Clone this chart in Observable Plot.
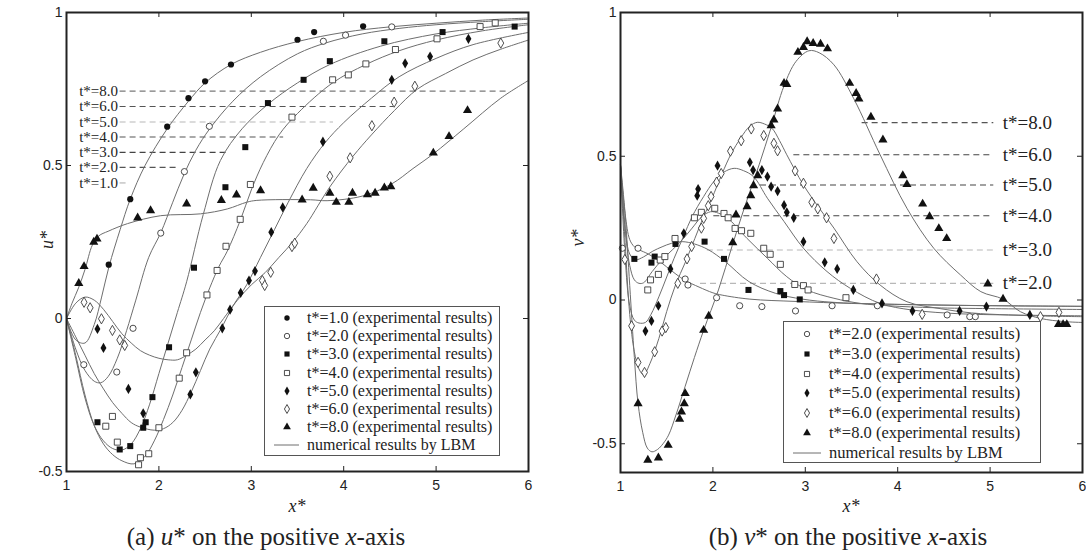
<!DOCTYPE html>
<html><head><meta charset="utf-8">
<script src="https://cdn.jsdelivr.net/npm/d3@7"></script>
<script src="https://cdn.jsdelivr.net/npm/@observablehq/plot@0.6"></script>
<style>
html,body{margin:0;padding:0;background:#fff;}
#wrap{position:relative;width:1086px;height:557px;overflow:hidden;font-family:"Liberation Serif","Times New Roman",serif;color:#222;}
.panel{position:absolute;top:0;}
.lab{position:absolute;font-style:italic;font-size:18px;line-height:18px;white-space:nowrap;}
.cap{position:absolute;font-size:25px;line-height:25px;white-space:nowrap;transform:translateX(-50%);}
.legend{position:absolute;border:1px solid #555;background:#fff;box-sizing:border-box;}
.legend .row{position:absolute;white-space:nowrap;line-height:1;transform:translateY(-50%);}
.legend svg{position:absolute;overflow:visible;}
</style></head><body><div id="wrap"></div>
<script>
// ---------- shared ticks ----------
const xTicks = [1, 2, 3, 4, 5, 6];
const uTicks = [-0.5, 0, 0.5, 1];
const vTicks = [-0.5, 0, 0.5, 1];

// ---------- (a) u* : experimental points ----------
const uExp1 = [[1.457,0.176],[1.69,0.39],[2.09,0.627],[2.32,0.72],[2.50,0.775],[2.78,0.83],[3.50,0.911],[3.68,0.936],[4.21,0.955]];
const uExp2 = [[1.187,-0.151],[1.544,-0.175],[1.72,-0.032],[2.02,0.279],[2.276,0.48],[2.546,0.628],[3.78,0.906],[4.02,0.926],[4.52,0.953]];
const uExp3 = [[1.335,-0.339],[1.576,-0.428],[1.69,-0.417],[1.83,-0.357],[1.857,-0.339],[1.93,-0.257],[2.11,-0.094],[2.38,0.166],[2.72,0.429],[2.935,0.56],[3.18,0.704],[3.566,0.78],[3.85,0.841],[4.44,0.906],[5.07,0.936],[5.85,0.954]];
const uExp4 = [[1.425,-0.352],[1.497,-0.32],[1.55,-0.404],[1.78,-0.478],[1.80,-0.455],[1.89,-0.442],[2.0,-0.357],[2.22,-0.195],[2.30,-0.112],[2.52,0.077],[2.63,0.157],[2.726,0.236],[2.88,0.324],[2.99,0.438],[3.44,0.658],[3.88,0.78],[4.05,0.796],[4.24,0.832],[4.56,0.879],[5.01,0.914],[5.476,0.954],[5.64,0.966]];
const uExp5 = [[1.335,-0.034],[1.40,-0.096],[1.67,-0.23],[1.83,-0.31],[2.34,-0.248],[2.40,-0.176],[2.686,-0.032],[2.77,0.029],[2.885,0.084],[2.975,0.124],[3.04,0.155],[3.216,0.282],[3.34,0.363],[3.775,0.578],[4.52,0.78],[4.665,0.834],[4.935,0.856],[5.35,0.914]];
const uExp6 = [[1.19,0.053],[1.256,0.035],[1.378,-0.001],[1.497,-0.039],[1.576,-0.07],[1.63,-0.088],[3.12,0.124],[3.145,0.108],[3.21,0.151],[3.44,0.235],[3.47,0.246],[3.85,0.465],[4.07,0.525],[4.305,0.63],[4.546,0.707],[4.77,0.759],[5.70,0.90]];
const uExp8 = [[1.133,0.115],[1.19,0.17],[1.295,0.25],[1.33,0.26],[1.77,0.329],[1.91,0.353],[2.30,0.375],[2.676,0.386],[2.84,0.404],[3.10,0.418],[3.55,0.388],[3.67,0.426],[3.85,0.41],[3.92,0.38],[4.056,0.38],[4.095,0.41],[4.257,0.405],[4.34,0.41],[4.44,0.427],[4.51,0.431],[4.97,0.541],[5.14,0.595],[5.34,0.68]];

// ---------- (a) u* : LBM curves ----------
const uLbm1 = [[1,0],[1.1,-0.07],[1.2,-0.08],[1.3,-0.02],[1.38,0.07],[1.46,0.17],[1.58,0.29],[1.69,0.39],[1.85,0.5],[2.09,0.62],[2.32,0.71],[2.5,0.77],[2.78,0.83],[3.1,0.87],[3.5,0.905],[4,0.935],[4.5,0.953],[5,0.965],[5.5,0.975],[6,0.982]];
const uLbm2 = [[1,0],[1.1,-0.1],[1.2,-0.17],[1.3,-0.205],[1.37,-0.21],[1.45,-0.19],[1.55,-0.13],[1.65,-0.04],[1.75,0.06],[1.89,0.2],[2.02,0.28],[2.15,0.38],[2.27,0.47],[2.4,0.55],[2.55,0.62],[2.8,0.71],[3.1,0.79],[3.5,0.865],[3.8,0.9],[4.2,0.93],[4.6,0.948],[5,0.96],[5.5,0.97],[6,0.978]];
const uLbm3 = [[1,0],[1.1,-0.13],[1.2,-0.26],[1.3,-0.35],[1.4,-0.4],[1.5,-0.425],[1.6,-0.43],[1.7,-0.41],[1.8,-0.36],[1.9,-0.28],[2.0,-0.18],[2.1,-0.08],[2.2,0.02],[2.3,0.12],[2.48,0.34],[2.665,0.516],[2.9,0.62],[3.18,0.70],[3.5,0.77],[3.85,0.83],[4.4,0.89],[5,0.93],[5.5,0.95],[6,0.965]];
const uLbm4 = [[1,0],[1.1,-0.12],[1.2,-0.25],[1.3,-0.35],[1.4,-0.41],[1.5,-0.445],[1.6,-0.465],[1.73,-0.475],[1.85,-0.45],[1.95,-0.40],[2.05,-0.33],[2.15,-0.25],[2.25,-0.16],[2.35,-0.07],[2.45,0.02],[2.55,0.1],[2.65,0.17],[2.74,0.22],[2.88,0.32],[3.0,0.42],[3.13,0.51],[3.3,0.6],[3.5,0.67],[3.88,0.77],[4.24,0.83],[4.6,0.875],[5,0.91],[5.5,0.94],[6,0.96]];
const uLbm5 = [[1,0],[1.1,-0.06],[1.2,-0.12],[1.3,-0.18],[1.4,-0.23],[1.5,-0.275],[1.6,-0.31],[1.7,-0.34],[1.8,-0.355],[1.95,-0.365],[2.05,-0.36],[2.15,-0.34],[2.25,-0.3],[2.35,-0.24],[2.45,-0.17],[2.55,-0.1],[2.68,-0.03],[2.8,0.04],[2.95,0.11],[3.1,0.2],[3.25,0.29],[3.4,0.38],[3.6,0.49],[3.8,0.575],[4.0,0.64],[4.3,0.72],[4.6,0.79],[5.0,0.85],[5.4,0.895],[6,0.935]];
const uLbm6 = [[1,0],[1.1,0.05],[1.2,0.07],[1.3,0.06],[1.4,0.03],[1.5,-0.01],[1.6,-0.05],[1.7,-0.08],[1.8,-0.105],[1.9,-0.12],[2.0,-0.13],[2.1,-0.135],[2.2,-0.135],[2.3,-0.12],[2.4,-0.1],[2.5,-0.07],[2.6,-0.04],[2.7,0.0],[2.85,0.06],[3.0,0.11],[3.15,0.15],[3.3,0.2],[3.45,0.25],[3.6,0.31],[3.85,0.43],[4.1,0.53],[4.3,0.6],[4.55,0.68],[4.8,0.75],[5.1,0.8],[5.4,0.845],[5.7,0.88],[6,0.91]];
const uLbm8 = [[1,0],[1.06,0.05],[1.13,0.1],[1.2,0.16],[1.28,0.24],[1.35,0.27],[1.45,0.285],[1.66,0.31],[2.02,0.336],[2.45,0.342],[2.74,0.358],[2.95,0.38],[3.06,0.386],[3.64,0.388],[3.82,0.385],[4.2,0.4],[4.52,0.44],[4.75,0.49],[4.97,0.538],[5.3,0.62],[5.7,0.72],[6,0.778]];

// ---------- (a) u* : t* labels with dashed leaders ----------
const uLabels = ["t*=8.0","t*=6.0","t*=5.0","t*=4.0","t*=3.0","t*=2.0","t*=1.0"];
const uLabelY = [0.743,0.693,0.642,0.593,0.543,0.494,0.443];
const uLeaderEnd = [5.80,4.54,3.89,3.35,2.75,2.21,1.67];
const uLeaderStart = 1.58;

// ---------- (b) v* : experimental points ----------
const vExp2 = [[1.02,0.18],[1.19,0.18],[1.70,0.073],[1.73,0.052],[2.04,0.008],[2.29,-0.02],[2.53,-0.023],[2.894,-0.038],[3.29,-0.02],[3.78,-0.02],[4.535,-0.052],[4.78,-0.058],[4.84,-0.058]];
const vExp3 = [[1.15,0.143],[1.335,0.13],[1.37,0.151],[1.595,0.195],[1.91,0.203],[2.12,0.143],[2.385,0.035],[2.73,0.031],[2.77,0.017],[2.94,0.002]];
const vExp4 = [[1.295,0.035],[1.325,0.07],[1.41,0.089],[1.43,0.139],[1.48,0.151],[1.59,0.214],[1.80,0.286],[1.875,0.305],[2.02,0.319],[2.12,0.301],[2.165,0.286],[2.24,0.249],[2.31,0.241],[2.41,0.232],[2.55,0.18],[2.62,0.159],[2.73,0.124],[2.886,0.054],[2.98,0.05],[3.03,0.035],[3.44,0.008]];
const vExp5 = [[1.27,-0.108],[1.335,-0.073],[1.41,-0.02],[1.54,0.108],[1.685,0.232],[1.83,0.363],[1.84,0.386],[2.05,0.467],[2.40,0.479],[2.435,0.452],[2.53,0.452],[2.59,0.429],[2.63,0.394],[2.70,0.379],[2.77,0.33],[2.80,0.305],[2.875,0.286],[2.98,0.203],[3.21,0.131],[3.345,0.108],[3.52,0.035],[3.83,-0.012],[4.16,-0.038],[4.67,-0.038],[4.96,-0.023],[5.43,-0.052]];
const vExp6 = [[1.047,0.141],[1.12,-0.09],[1.19,-0.217],[1.26,-0.252],[1.37,-0.18],[1.45,-0.108],[1.49,-0.096],[1.62,0.058],[1.72,0.143],[1.77,0.186],[1.875,0.25],[1.90,0.284],[1.95,0.328],[1.98,0.36],[2.04,0.41],[2.09,0.44],[2.19,0.518],[2.306,0.554],[2.415,0.595],[2.55,0.572],[2.66,0.545],[2.70,0.519],[2.89,0.449],[2.98,0.406],[3.07,0.34],[3.135,0.317],[3.23,0.286],[3.31,0.214],[3.77,0.073],[4.265,-0.05],[5.545,-0.058],[5.745,-0.043]];
const vExp8 = [[1.19,-0.36],[1.296,-0.557],[1.41,-0.549],[1.516,-0.505],[1.64,-0.414],[1.66,-0.389],[1.69,-0.36],[1.70,-0.325],[1.90,-0.105],[1.955,-0.056],[2.215,0.2],[2.25,0.296],[2.37,0.325],[2.41,0.363],[2.44,0.398],[2.485,0.433],[2.63,0.607],[2.66,0.627],[2.70,0.665],[2.77,0.754],[2.80,0.75],[2.92,0.862],[2.98,0.879],[3.02,0.899],[3.085,0.893],[3.165,0.89],[3.24,0.874],[3.48,0.754],[3.55,0.719],[3.58,0.70],[3.71,0.636],[3.84,0.557],[4.055,0.433],[4.10,0.402],[4.27,0.334],[4.345,0.29],[4.445,0.249],[4.53,0.214],[4.975,0.056],[5.14,0.003],[5.74,-0.085],[5.79,-0.085],[5.83,-0.085]];

// ---------- (b) v* : LBM curves ----------
const vLbm2 = [[1,0.47],[1.05,0.3],[1.1,0.21],[1.15,0.185],[1.2,0.175],[1.3,0.16],[1.4,0.14],[1.5,0.115],[1.6,0.09],[1.7,0.068],[1.85,0.045],[2.0,0.025],[2.1,0.017],[2.4,0.003],[2.9,-0.005],[3.5,-0.012],[4,-0.015],[5,-0.02],[6,-0.022]];
const vLbm3 = [[1,0.47],[1.05,0.25],[1.1,0.16],[1.16,0.14],[1.25,0.15],[1.35,0.17],[1.45,0.185],[1.55,0.197],[1.667,0.203],[1.8,0.195],[1.95,0.175],[2.136,0.133],[2.39,0.064],[2.68,0.023],[2.97,0.003],[3.3,-0.008],[3.8,-0.014],[4.5,-0.018],[5.2,-0.02],[6,-0.022]];
const vLbm4 = [[1,0.47],[1.05,0.25],[1.1,0.12],[1.15,0.07],[1.2,0.058],[1.25,0.06],[1.343,0.099],[1.45,0.14],[1.56,0.174],[1.67,0.21],[1.775,0.25],[1.88,0.29],[1.975,0.307],[2.06,0.302],[2.155,0.286],[2.37,0.214],[2.59,0.145],[2.80,0.081],[3.02,0.035],[3.31,0.006],[3.6,-0.012],[3.9,-0.02],[4.4,-0.027],[5,-0.03],[6,-0.033]];
const vLbm5 = [[1,0.47],[1.05,0.15],[1.1,-0.02],[1.15,-0.07],[1.2,-0.08],[1.27,-0.078],[1.33,-0.05],[1.415,0.011],[1.5,0.08],[1.58,0.145],[1.68,0.22],[1.775,0.29],[1.9,0.36],[2.01,0.412],[2.12,0.445],[2.23,0.458],[2.33,0.45],[2.44,0.429],[2.59,0.354],[2.77,0.273],[2.98,0.18],[3.235,0.099],[3.49,0.04],[3.81,-0.012],[4.16,-0.035],[4.68,-0.048],[5.2,-0.052],[6,-0.055]];
const vLbm6 = [[1,0.47],[1.05,0.2],[1.1,-0.05],[1.15,-0.18],[1.2,-0.24],[1.25,-0.26],[1.32,-0.22],[1.415,-0.134],[1.5,-0.04],[1.595,0.052],[1.7,0.13],[1.775,0.19],[1.9,0.29],[1.99,0.354],[2.1,0.44],[2.2,0.51],[2.3,0.563],[2.4,0.605],[2.48,0.618],[2.56,0.612],[2.64,0.597],[2.72,0.555],[2.8,0.505],[2.98,0.40],[3.15,0.32],[3.31,0.25],[3.56,0.133],[3.81,0.052],[4.1,-0.006],[4.46,-0.03],[4.8,-0.045],[5.2,-0.052],[5.6,-0.056],[6,-0.058]];
const vLbm8 = [[1,0.47],[1.05,0.3],[1.1,0.05],[1.15,-0.2],[1.19,-0.36],[1.24,-0.46],[1.29,-0.515],[1.34,-0.528],[1.4,-0.52],[1.46,-0.5],[1.52,-0.47],[1.6,-0.4],[1.7,-0.3],[1.8,-0.2],[1.9,-0.105],[2.06,0.035],[2.21,0.19],[2.35,0.33],[2.5,0.47],[2.63,0.6],[2.77,0.745],[2.9,0.83],[3.04,0.867],[3.15,0.86],[3.31,0.818],[3.525,0.70],[3.81,0.505],[4.1,0.319],[4.39,0.18],[4.68,0.087],[4.9,0.029],[5.14,0.003],[5.33,-0.041],[5.545,-0.064],[5.8,-0.075],[6,-0.078]];

// ---------- (b) v* : t* labels with dashed leaders ----------
const vLabels = ["t*=8.0","t*=6.0","t*=5.0","t*=4.0","t*=3.0","t*=2.0"];
const vLabelY = [0.617,0.505,0.40,0.293,0.174,0.058];
const vLeaderStart = [3.615,2.876,2.515,2.01,1.94,1.866];
const vLeaderEnd = 5.04;

// ---------- legend texts ----------
const uLegendTimes = ["1.0","2.0","3.0","4.0","5.0","6.0","8.0"];
const vLegendTimes = ["2.0","3.0","4.0","5.0","6.0","8.0"];
const lbmText = "numerical results by LBM";

// ---------- styles (kept apart from data) ----------
const markerStyle = {
  "1.0": {symbol: "circle", filled: true},
  "2.0": {symbol: "circle", filled: false},
  "3.0": {symbol: "square", filled: true},
  "4.0": {symbol: "square", filled: false},
  "5.0": {symbol: "diamond", filled: true},
  "6.0": {symbol: "diamond", filled: false},
  "8.0": {symbol: "triangle", filled: true}
};
const uLeaderColor = ["#7a7a7a","#555","#b8b8b8","#555","#444","#555","#b0b0b0"];
const vLeaderColor = ["#555","#444","#444","#444","#b8b8b8","#b8b8b8"];
const curveColor = "#6e6e6e";
const d3Sym = {circle: d3.symbolCircle, square: d3.symbolSquare, diamond: d3.symbolDiamond, triangle: d3.symbolTriangle};

const toRows = (arr, t) => arr.map(([x, y]) => ({x, y, t}));

function dotMarks(series) {
  return series.map(([t, arr]) => {
    const st = markerStyle[t];
    const r = st.symbol === "square" ? 3.4 : (st.symbol === "triangle" ? 3.4 : 3.1);
    return Plot.dot(toRows(arr, t), {
      x: "x", y: "y", r, symbol: st.symbol,
      fill: st.filled ? "#111" : "#fff",
      stroke: st.filled ? "none" : "#3a3a3a",
      strokeWidth: 0.9
    });
  });
}

function panel({yDomain, yTicks, mL, mR, mB, curves, exps, leaders, labels, labelAnchor, labelDx, labelSize}) {
  const W = 543, Hh = 520, mT = 12;
  const fH = Hh - mT - mB, fW = W - mL - mR;
  const inner = xTicks.slice(1, -1);
  const innerY = yTicks.filter(v => v > yDomain[0] && v < yDomain[1]);
  const curveRows = curves.flatMap(([t, arr]) => toRows(arr, t));
  return Plot.plot({
    width: W, height: Hh, marginTop: mT, marginBottom: mB, marginLeft: mL, marginRight: mR,
    x: {domain: [1, 6]},
    y: {domain: yDomain},
    style: {fontFamily: "'Liberation Sans', Arial, sans-serif", fontSize: "14px", color: "#222", background: "transparent", overflow: "visible"},
    marks: [
      Plot.ruleY(leaders, {y: "y", x1: "x1", x2: "x2", stroke: "color", strokeWidth: 1.1, strokeDasharray: "6,4"}),
      Plot.line(curveRows, {x: "x", y: "y", z: "t", stroke: curveColor, strokeWidth: 1, curve: "catmull-rom"}),
      ...dotMarks(exps),
      Plot.text(labels, {x: "x", y: "y", text: "text", textAnchor: labelAnchor, dx: labelDx, fontFamily: "'Liberation Serif', 'Times New Roman', serif", fontSize: labelSize, fill: "#222"}),
      Plot.tickX(inner, {x: d => d, insetTop: fH - 5, stroke: "#222"}),
      Plot.tickX(inner, {x: d => d, insetBottom: fH - 5, stroke: "#222"}),
      Plot.tickY(innerY, {y: d => d, insetRight: fW - 5, stroke: "#222"}),
      Plot.tickY(innerY, {y: d => d, insetLeft: fW - 5, stroke: "#222"}),
      Plot.frame({stroke: "#222", strokeWidth: 2}),
      Plot.axisX({ticks: xTicks, tickSize: 0, tickPadding: 9, tickFormat: d => String(d), label: null}),
      Plot.axisY({ticks: yTicks, tickSize: 0, tickPadding: 4, tickFormat: d => String(d), label: null})
    ]
  });
}

const uLeaders = uLabels.map((text, i) => ({y: uLabelY[i], x1: uLeaderStart, x2: uLeaderEnd[i], color: uLeaderColor[i]}));
const uLabelRows = uLabels.map((text, i) => ({text, y: uLabelY[i], x: uLeaderStart}));
const vLeaders = vLabels.map((text, i) => ({y: vLabelY[i], x1: vLeaderStart[i], x2: vLeaderEnd, color: vLeaderColor[i]}));
const vLabelRows = vLabels.map((text, i) => ({text, y: vLabelY[i], x: vLeaderEnd}));

const left = panel({
  yDomain: [-0.5, 1], yTicks: uTicks, mL: 66, mR: 15, mB: 49,
  curves: [["1.0", uLbm1], ["2.0", uLbm2], ["3.0", uLbm3], ["4.0", uLbm4], ["5.0", uLbm5], ["6.0", uLbm6], ["8.0", uLbm8]],
  exps: [["1.0", uExp1], ["2.0", uExp2], ["3.0", uExp3], ["4.0", uExp4], ["5.0", uExp5], ["6.0", uExp6], ["8.0", uExp8]],
  leaders: uLeaders, labels: uLabelRows, labelAnchor: "end", labelDx: -2, labelSize: 15
});
const right = panel({
  yDomain: [-0.6, 1], yTicks: vTicks, mL: 77, mR: 4, mB: 48,
  curves: [["2.0", vLbm2], ["3.0", vLbm3], ["4.0", vLbm4], ["5.0", vLbm5], ["6.0", vLbm6], ["8.0", vLbm8]],
  exps: [["2.0", vExp2], ["3.0", vExp3], ["4.0", vExp4], ["5.0", vExp5], ["6.0", vExp6], ["8.0", vExp8]],
  leaders: vLeaders, labels: vLabelRows, labelAnchor: "start", labelDx: 9, labelSize: 19
});

const wrap = document.getElementById("wrap");
left.classList.add("panel"); left.style.left = "0px";
right.classList.add("panel"); right.style.left = "543px";
wrap.appendChild(left); wrap.appendChild(right);

// ---------- axis titles & captions ----------
function addDiv(cls, html, css) {
  const d = document.createElement("div");
  d.className = cls; d.innerHTML = html; Object.assign(d.style, css);
  wrap.appendChild(d); return d;
}
addDiv("lab", "u*", {left: "47px", top: "240px", transform: "translate(-50%,-50%) rotate(-90deg)"});
addDiv("lab", "v*", {left: "578px", top: "238px", transform: "translate(-50%,-50%) rotate(-90deg)"});
addDiv("lab", "x*", {left: "297px", top: "497px", transform: "translateX(-50%)"});
addDiv("lab", "x*", {left: "851px", top: "497px", transform: "translateX(-50%)"});
addDiv("cap", "(a) <i>u</i>* on the positive <i>x</i>-axis", {left: "266px", top: "524px"});
addDiv("cap", "(b) <i>v</i>* on the positive <i>x</i>-axis", {left: "848px", top: "524px"});

// ---------- legends ----------
const NS = "http://www.w3.org/2000/svg";
function legend({left, top, width, height, times, rowTop, rowStep, symX, textX, lineX1, lineX2, fontSize}) {
  const box = document.createElement("div");
  box.className = "legend";
  Object.assign(box.style, {left: left + "px", top: top + "px", width: width + "px", height: height + "px", fontSize: fontSize + "px"});
  const items = times.map(t => ({t, text: "t*=" + t + " (experimental results)"}));
  items.push({t: null, text: lbmText});
  items.forEach((it, i) => {
    const cy = rowTop + i * rowStep;
    const svg = document.createElementNS(NS, "svg");
    svg.setAttribute("width", width); svg.setAttribute("height", 1);
    svg.style.left = "0px"; svg.style.top = cy + "px";
    if (it.t) {
      const st = markerStyle[it.t];
      const r = st.symbol === "square" || st.symbol === "triangle" ? 2.9 : 2.7;
      const p = document.createElementNS(NS, "path");
      p.setAttribute("d", d3.symbol(d3Sym[st.symbol], Math.PI * r * r)());
      p.setAttribute("transform", `translate(${symX},0)`);
      p.setAttribute("fill", st.filled ? "#111" : "#fff");
      p.setAttribute("stroke", st.filled ? "none" : "#3a3a3a");
      p.setAttribute("stroke-width", "0.9");
      svg.appendChild(p);
    } else {
      const l = document.createElementNS(NS, "line");
      l.setAttribute("x1", lineX1); l.setAttribute("x2", lineX2); l.setAttribute("y1", 0); l.setAttribute("y2", 0);
      l.setAttribute("stroke", curveColor); l.setAttribute("stroke-width", 1);
      svg.appendChild(l);
    }
    box.appendChild(svg);
    const row = document.createElement("div");
    row.className = "row"; row.textContent = it.text;
    row.style.left = textX + "px"; row.style.top = cy + "px";
    box.appendChild(row);
  });
  wrap.appendChild(box);
}
legend({left: 264, top: 306, width: 236, height: 150, times: uLegendTimes, rowTop: 11, rowStep: 18.2, symX: 22, textX: 42, lineX1: 9, lineX2: 34, fontSize: 16});
legend({left: 783, top: 321, width: 258, height: 142, times: vLegendTimes, rowTop: 12, rowStep: 19.8, symX: 23, textX: 45, lineX1: 9, lineX2: 37, fontSize: 16.5});
</script></body></html>
